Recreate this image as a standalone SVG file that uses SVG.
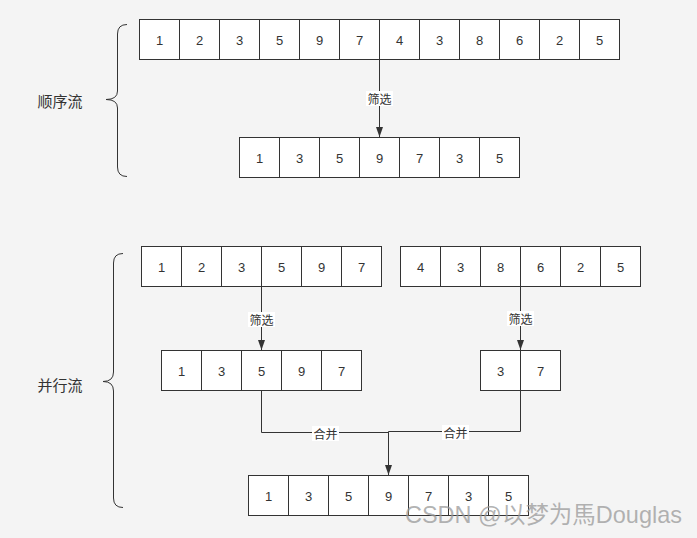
<svg xmlns="http://www.w3.org/2000/svg" width="697" height="538" viewBox="0 0 697 538">
<style>
.c{fill:#fff;stroke:#333;stroke-width:1}
.n{font-family:"Liberation Sans","Noto Sans CJK SC",sans-serif;font-size:13px;fill:#333;text-anchor:middle;dominant-baseline:central}
.lbl{font-family:"Noto Sans CJK SC","Liberation Sans",sans-serif;font-size:12px;fill:#333;text-anchor:middle;dominant-baseline:central}
.big{font-family:"Noto Sans CJK SC","Liberation Sans",sans-serif;font-size:15px;fill:#333;text-anchor:middle;dominant-baseline:central}
.e{fill:none;stroke:#333;stroke-width:1}
.br{fill:none;stroke:#333;stroke-width:1}
.lb{fill:#fff}
</style>
<defs>
<marker id="ah" markerWidth="8" markerHeight="10" refX="7" refY="5" orient="auto" markerUnits="userSpaceOnUse" viewBox="0 0 8 10">
<path d="M0,1 L7,5 L0,9 Z" fill="#333"/>
</marker>
<marker id="av" viewBox="0 0 8 10" markerWidth="8" markerHeight="10" refX="4" refY="10" orient="0" markerUnits="userSpaceOnUse">
<path d="M0.5,0 L4,10 L7.5,0 Z" fill="#333"/>
</marker>
</defs>
<rect x="0" y="0" width="697" height="538" fill="#f4f4f4"/>

<g id="label-seq"><text class="big" x="60" y="100">顺序流</text></g>
<g id="label-par"><text class="big" x="60" y="384">并行流</text></g>

<g id="brace-seq"><path class="br" d="M127,24.5 Q117.5,24.5 117.5,34 L117.5,91 Q117.5,99.5 106,99.5 Q117.5,99.5 117.5,108 L117.5,167 Q117.5,176.5 127,176.5"/></g>
<g id="brace-par"><path class="br" d="M123,253.5 Q113.5,253.5 113.5,263 L113.5,372 Q113.5,381.5 103,381.5 Q113.5,381.5 113.5,391 L113.5,498 Q113.5,507.5 123,507.5"/></g>

<g id="connectors">
<path class="e" d="M379.5,59 L379.5,137" marker-end="url(#av)"/>
<path class="e" d="M261.5,286 L261.5,350" marker-end="url(#av)"/>
<path class="e" d="M520.5,286 L520.5,350" marker-end="url(#av)"/>
<path class="e" d="M261.5,390 L261.5,432.5 L388.5,432.5 L388.5,475" marker-end="url(#av)"/>
<path class="e" d="M520.5,390 L520.5,431.5 L388.5,431.5 L388.5,475"/>
<rect class="lb" x="366" y="91" width="27" height="15"/>
<text class="lbl" x="379.5" y="98.5">筛选</text>
<rect class="lb" x="248" y="312" width="27" height="15"/>
<text class="lbl" x="261.5" y="319.5">筛选</text>
<rect class="lb" x="507" y="311" width="27" height="15"/>
<text class="lbl" x="520.5" y="318.5">筛选</text>
<rect class="lb" x="312" y="426" width="27" height="15"/>
<text class="lbl" x="325.5" y="433.5">合并</text>
<rect class="lb" x="442" y="425" width="27" height="15"/>
<text class="lbl" x="455.5" y="432.5">合并</text>
</g>

<g id="row-top">
<rect class="c" x="139.5" y="19.5" width="40" height="40"/><text class="n" x="159.5" y="40">1</text>
<rect class="c" x="179.5" y="19.5" width="40" height="40"/><text class="n" x="199.5" y="40">2</text>
<rect class="c" x="219.5" y="19.5" width="40" height="40"/><text class="n" x="239.5" y="40">3</text>
<rect class="c" x="259.5" y="19.5" width="40" height="40"/><text class="n" x="279.5" y="40">5</text>
<rect class="c" x="299.5" y="19.5" width="40" height="40"/><text class="n" x="319.5" y="40">9</text>
<rect class="c" x="339.5" y="19.5" width="40" height="40"/><text class="n" x="359.5" y="40">7</text>
<rect class="c" x="379.5" y="19.5" width="40" height="40"/><text class="n" x="399.5" y="40">4</text>
<rect class="c" x="419.5" y="19.5" width="40" height="40"/><text class="n" x="439.5" y="40">3</text>
<rect class="c" x="459.5" y="19.5" width="40" height="40"/><text class="n" x="479.5" y="40">8</text>
<rect class="c" x="499.5" y="19.5" width="40" height="40"/><text class="n" x="519.5" y="40">6</text>
<rect class="c" x="539.5" y="19.5" width="40" height="40"/><text class="n" x="559.5" y="40">2</text>
<rect class="c" x="579.5" y="19.5" width="40" height="40"/><text class="n" x="599.5" y="40">5</text>
</g>

<g id="row-seq-result">
<rect class="c" x="239.5" y="137.5" width="40" height="40"/><text class="n" x="259.5" y="158">1</text>
<rect class="c" x="279.5" y="137.5" width="40" height="40"/><text class="n" x="299.5" y="158">3</text>
<rect class="c" x="319.5" y="137.5" width="40" height="40"/><text class="n" x="339.5" y="158">5</text>
<rect class="c" x="359.5" y="137.5" width="40" height="40"/><text class="n" x="379.5" y="158">9</text>
<rect class="c" x="399.5" y="137.5" width="40" height="40"/><text class="n" x="419.5" y="158">7</text>
<rect class="c" x="439.5" y="137.5" width="40" height="40"/><text class="n" x="459.5" y="158">3</text>
<rect class="c" x="479.5" y="137.5" width="40" height="40"/><text class="n" x="499.5" y="158">5</text>
</g>

<g id="row-par-a">
<rect class="c" x="141.5" y="246.5" width="40" height="40"/><text class="n" x="161.5" y="267">1</text>
<rect class="c" x="181.5" y="246.5" width="40" height="40"/><text class="n" x="201.5" y="267">2</text>
<rect class="c" x="221.5" y="246.5" width="40" height="40"/><text class="n" x="241.5" y="267">3</text>
<rect class="c" x="261.5" y="246.5" width="40" height="40"/><text class="n" x="281.5" y="267">5</text>
<rect class="c" x="301.5" y="246.5" width="40" height="40"/><text class="n" x="321.5" y="267">9</text>
<rect class="c" x="341.5" y="246.5" width="40" height="40"/><text class="n" x="361.5" y="267">7</text>
</g>

<g id="row-par-b">
<rect class="c" x="400.5" y="246.5" width="40" height="40"/><text class="n" x="420.5" y="267">4</text>
<rect class="c" x="440.5" y="246.5" width="40" height="40"/><text class="n" x="460.5" y="267">3</text>
<rect class="c" x="480.5" y="246.5" width="40" height="40"/><text class="n" x="500.5" y="267">8</text>
<rect class="c" x="520.5" y="246.5" width="40" height="40"/><text class="n" x="540.5" y="267">6</text>
<rect class="c" x="560.5" y="246.5" width="40" height="40"/><text class="n" x="580.5" y="267">2</text>
<rect class="c" x="600.5" y="246.5" width="40" height="40"/><text class="n" x="620.5" y="267">5</text>
</g>

<g id="row-par-a-result">
<rect class="c" x="161.5" y="350.5" width="40" height="40"/><text class="n" x="181.5" y="371">1</text>
<rect class="c" x="201.5" y="350.5" width="40" height="40"/><text class="n" x="221.5" y="371">3</text>
<rect class="c" x="241.5" y="350.5" width="40" height="40"/><text class="n" x="261.5" y="371">5</text>
<rect class="c" x="281.5" y="350.5" width="40" height="40"/><text class="n" x="301.5" y="371">9</text>
<rect class="c" x="321.5" y="350.5" width="40" height="40"/><text class="n" x="341.5" y="371">7</text>
</g>

<g id="row-par-b-result">
<rect class="c" x="480.5" y="350.5" width="40" height="40"/><text class="n" x="500.5" y="371">3</text>
<rect class="c" x="520.5" y="350.5" width="40" height="40"/><text class="n" x="540.5" y="371">7</text>
</g>

<g id="row-merged">
<rect class="c" x="248.5" y="475.5" width="40" height="40"/><text class="n" x="268.5" y="496">1</text>
<rect class="c" x="288.5" y="475.5" width="40" height="40"/><text class="n" x="308.5" y="496">3</text>
<rect class="c" x="328.5" y="475.5" width="40" height="40"/><text class="n" x="348.5" y="496">5</text>
<rect class="c" x="368.5" y="475.5" width="40" height="40"/><text class="n" x="388.5" y="496">9</text>
<rect class="c" x="408.5" y="475.5" width="40" height="40"/><text class="n" x="428.5" y="496">7</text>
<rect class="c" x="448.5" y="475.5" width="40" height="40"/><text class="n" x="468.5" y="496">3</text>
<rect class="c" x="488.5" y="475.5" width="40" height="40"/><text class="n" x="508.5" y="496">5</text>
</g>

<g id="watermark">
<text x="405" y="523" font-family="'Liberation Sans','Noto Sans CJK SC',sans-serif" font-size="24" fill="#9a9a9a" fill-opacity="0.75" textLength="277" lengthAdjust="spacingAndGlyphs">CSDN @以梦为馬Douglas</text>
</g>
</svg>
